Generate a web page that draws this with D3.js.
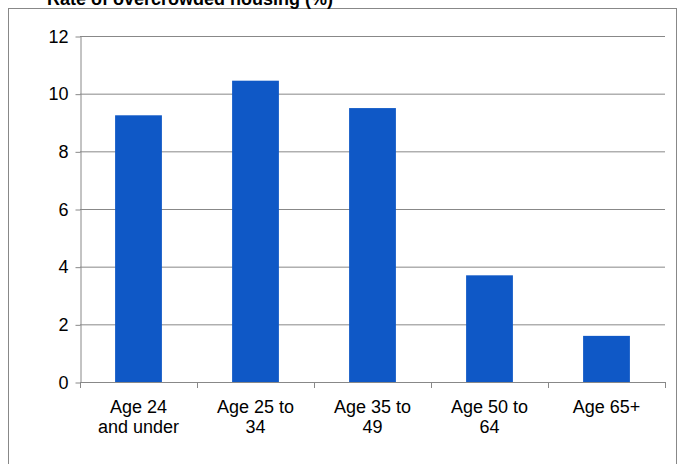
<!DOCTYPE html>
<html><head><meta charset="utf-8">
<script src="https://cdn.jsdelivr.net/npm/d3@7"></script>
<style>body{margin:0;background:#fff}svg{font-family:"Liberation Sans",Arial,sans-serif}</style>
</head><body><svg id="c"></svg>
<script>
const categories = [["Age 24", "and under"], ["Age 25 to", "34"], ["Age 35 to", "49"], ["Age 50 to", "64"], ["Age 65+"]];
const values = [9.25, 10.45, 9.5, 3.7, 1.6];
const yTicks = [0, 2, 4, 6, 8, 10, 12];
const title = "Rate of overcrowded housing (%)";

const width = 686, height = 464;
const margin = { top: 36, right: 21, bottom: 82, left: 80 };
const svg = d3.select('#c').attr('width', width).attr('height', height);

svg.append('rect').attr('x', 8.5).attr('y', 8.5).attr('width', 668).attr('height', 470)
  .attr('fill', 'none').attr('stroke', '#888');

svg.append('text').attr('x', 190).attr('y', 5).attr('text-anchor', 'middle')
  .style('font-size', '18px').style('font-weight', 'bold').text(title);

const x = d3.scaleBand().domain(d3.range(categories.length))
  .range([margin.left, width - margin.right]).paddingInner(0.6).paddingOuter(0.3);
const y = d3.scaleLinear().domain([0, 12]).range([height - margin.bottom, margin.top]);

svg.append('g').selectAll('line').data(yTicks.slice(1)).join('line')
  .attr('x1', margin.left).attr('x2', width - margin.right)
  .attr('y1', d => y(d) + 0.5).attr('y2', d => y(d) + 0.5).attr('stroke', '#888');

svg.append('g').selectAll('rect').data(values).join('rect')
  .attr('x', (d, i) => x(i)).attr('width', x.bandwidth())
  .attr('y', d => y(d)).attr('height', d => y(0) - y(d)).attr('fill', '#0f58c6');

const yAxis = svg.append('g').attr('transform', `translate(${margin.left + 0.5},0.5)`)
  .call(d3.axisLeft(y).tickValues(yTicks).tickSize(5).tickSizeOuter(0));
yAxis.select('.domain').attr('stroke', '#888');
yAxis.selectAll('line').attr('stroke', '#888');
yAxis.selectAll('text').style('font-size', '18px').attr('fill', '#000').attr('x', -12);

const step = x.step();
const bounds = d3.range(categories.length + 1).map(i => x.range()[0] + i * step);
const base = svg.append('g');
base.append('line').attr('x1', margin.left).attr('x2', width - margin.right)
  .attr('y1', y(0) + 0.5).attr('y2', y(0) + 0.5).attr('stroke', '#888');
base.selectAll('line.t').data(bounds).join('line').attr('class', 't')
  .attr('x1', d => Math.round(d) + 0.5).attr('x2', d => Math.round(d) + 0.5)
  .attr('y1', y(0)).attr('y2', y(0) + 6).attr('stroke', '#888');

categories.forEach((lines, i) => {
  const t = svg.append('text').attr('text-anchor', 'middle').style('font-size', '18px');
  lines.forEach((l, j) => t.append('tspan').attr('x', x(i) + x.bandwidth() / 2)
    .attr('y', y(0) + 31 + j * 20).text(l));
});
</script></body></html>
